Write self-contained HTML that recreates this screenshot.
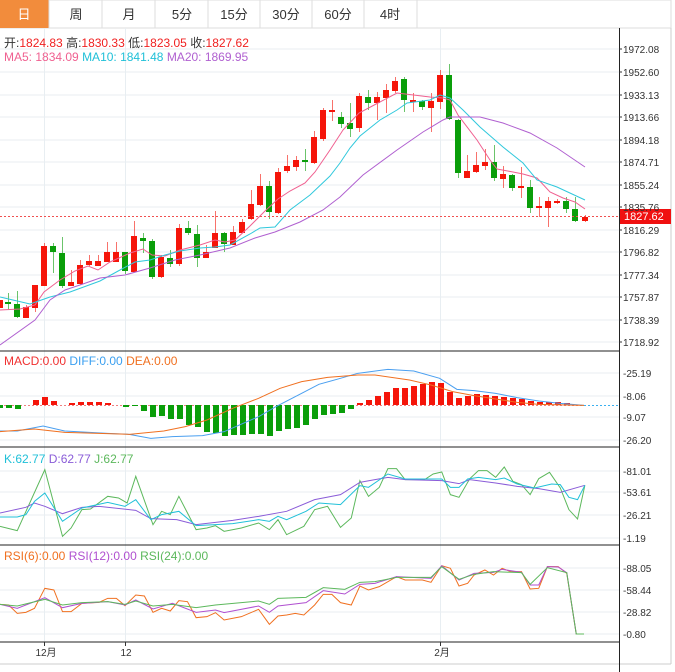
<!DOCTYPE html>
<html><head><meta charset="utf-8"><style>
body{margin:0;background:#fff;width:675px;height:672px;overflow:hidden;font-family:"Liberation Sans","Noto Sans CJK SC",sans-serif;}
svg{display:block}
</style></head><body>
<svg width="675" height="672" viewBox="0 0 675 672" xmlns="http://www.w3.org/2000/svg" font-family="Liberation Sans, Noto Sans CJK SC, sans-serif">
<!-- tabs -->
<rect x="0" y="0" width="671" height="28" fill="#fff" stroke="#ddd"/>
<rect x="0" y="0" width="49" height="28" fill="#f28c3c"/>
<g stroke="#ddd"><line x1="49" y1="0" x2="49" y2="28"/><line x1="102" y1="0" x2="102" y2="28"/><line x1="155" y1="0" x2="155" y2="28"/><line x1="208" y1="0" x2="208" y2="28"/><line x1="260" y1="0" x2="260" y2="28"/><line x1="312" y1="0" x2="312" y2="28"/><line x1="364" y1="0" x2="364" y2="28"/><line x1="417" y1="0" x2="417" y2="28"/></g>
<g font-size="13" text-anchor="middle" fill="#333"><text x="24" y="19" fill="#fff">日</text><text x="76" y="19">周</text><text x="129" y="19">月</text><text x="182" y="19">5分</text><text x="234" y="19">15分</text><text x="286" y="19">30分</text><text x="338" y="19">60分</text><text x="390" y="19">4时</text></g>
<!-- frame -->
<line x1="671" y1="28" x2="671" y2="664" stroke="#ccc"/>
<line x1="0" y1="664" x2="671" y2="664" stroke="#ccc"/>
<!-- grid -->
<g stroke="#e8eef2">
<line x1="0" y1="49" x2="619" y2="49"/><line x1="0" y1="72" x2="619" y2="72"/><line x1="0" y1="95" x2="619" y2="95"/><line x1="0" y1="117" x2="619" y2="117"/><line x1="0" y1="140" x2="619" y2="140"/><line x1="0" y1="162" x2="619" y2="162"/><line x1="0" y1="185" x2="619" y2="185"/><line x1="0" y1="207" x2="619" y2="207"/><line x1="0" y1="230" x2="619" y2="230"/><line x1="0" y1="252" x2="619" y2="252"/><line x1="0" y1="275" x2="619" y2="275"/><line x1="0" y1="297" x2="619" y2="297"/><line x1="0" y1="320" x2="619" y2="320"/><line x1="0" y1="342" x2="619" y2="342"/>
<line x1="0" y1="373" x2="619" y2="373"/><line x1="0" y1="396" x2="619" y2="396"/><line x1="0" y1="417" x2="619" y2="417"/><line x1="0" y1="440" x2="619" y2="440"/>
<line x1="0" y1="471" x2="619" y2="471"/><line x1="0" y1="492" x2="619" y2="492"/><line x1="0" y1="515" x2="619" y2="515"/><line x1="0" y1="538" x2="619" y2="538"/>
<line x1="0" y1="568" x2="619" y2="568"/><line x1="0" y1="590" x2="619" y2="590"/><line x1="0" y1="612" x2="619" y2="612"/><line x1="0" y1="634" x2="619" y2="634"/>
<line x1="44.5" y1="28" x2="44.5" y2="642"/><line x1="125.5" y1="28" x2="125.5" y2="642"/><line x1="440.5" y1="28" x2="440.5" y2="642"/>
</g>
<!-- panel separators -->
<g stroke="#222"><line x1="0" y1="351" x2="619" y2="351"/><line x1="0" y1="447" x2="619" y2="447"/><line x1="0" y1="545" x2="619" y2="545"/><line x1="0" y1="642" x2="619" y2="642"/><line x1="619.5" y1="28" x2="619.5" y2="672"/></g>
<!-- header texts -->
<text x="4" y="47" font-size="12" fill="#333">开:<tspan fill="#f02020">1824.83</tspan>  高:<tspan fill="#f02020">1830.33</tspan>  低:<tspan fill="#f02020">1823.05</tspan>  收:<tspan fill="#f02020">1827.62</tspan></text>
<text x="4" y="61" font-size="12"><tspan fill="#f06090">MA5: 1834.09</tspan>  <tspan fill="#20c0d8">MA10: 1841.48</tspan>  <tspan fill="#b060d0">MA20: 1869.95</tspan></text>
<!-- candles -->
<g id="c">
<g fill="#f5150a" stroke="#f5150a">
<line x1="0.5" y1="300" x2="0.5" y2="308" opacity=".6"/><rect x="-3" y="300" width="6" height="8" stroke="none"/>
<line x1="26.5" y1="305" x2="26.5" y2="318" opacity=".6"/><rect x="23" y="307" width="6" height="11" stroke="none"/>
<line x1="35.5" y1="285" x2="35.5" y2="312" opacity=".6"/><rect x="32" y="285" width="6" height="23" stroke="none"/>
<line x1="44.5" y1="243" x2="44.5" y2="286" opacity=".6"/><rect x="41" y="246" width="6" height="40" stroke="none"/>
<line x1="71.5" y1="270" x2="71.5" y2="286" opacity=".6"/><rect x="68" y="282" width="6" height="4" stroke="none"/>
<line x1="80.5" y1="260" x2="80.5" y2="285" opacity=".6"/><rect x="77" y="265" width="6" height="19" stroke="none"/>
<line x1="89.5" y1="255" x2="89.5" y2="266" opacity=".6"/><rect x="86" y="261" width="6" height="4" stroke="none"/>
<line x1="98.5" y1="255" x2="98.5" y2="266" opacity=".6"/><rect x="95" y="261" width="6" height="5" stroke="none"/>
<line x1="107.5" y1="242" x2="107.5" y2="262" opacity=".6"/><rect x="104" y="252" width="6" height="10" stroke="none"/>
<line x1="116.5" y1="242" x2="116.5" y2="262" opacity=".6"/><rect x="113" y="252" width="6" height="10" stroke="none"/>
<line x1="134.5" y1="221" x2="134.5" y2="272" opacity=".6"/><rect x="131" y="236" width="6" height="36" stroke="none"/>
<line x1="161.5" y1="255" x2="161.5" y2="278" opacity=".6"/><rect x="158" y="257" width="6" height="20" stroke="none"/>
<line x1="179.5" y1="224" x2="179.5" y2="266" opacity=".6"/><rect x="176" y="228" width="6" height="36" stroke="none"/>
<line x1="206.5" y1="245" x2="206.5" y2="258" opacity=".6"/><rect x="203" y="252" width="6" height="6" stroke="none"/>
<line x1="215.5" y1="211" x2="215.5" y2="248" opacity=".6"/><rect x="212" y="233" width="6" height="15" stroke="none"/>
<line x1="233.5" y1="226" x2="233.5" y2="245" opacity=".6"/><rect x="230" y="232" width="6" height="13" stroke="none"/>
<line x1="242.5" y1="219" x2="242.5" y2="233" opacity=".6"/><rect x="239" y="222" width="6" height="11" stroke="none"/>
<line x1="251.5" y1="190" x2="251.5" y2="220" opacity=".6"/><rect x="248" y="204" width="6" height="15" stroke="none"/>
<line x1="260.5" y1="174" x2="260.5" y2="206" opacity=".6"/><rect x="257" y="186" width="6" height="19" stroke="none"/>
<line x1="278.5" y1="168" x2="278.5" y2="214" opacity=".6"/><rect x="275" y="172" width="6" height="41" stroke="none"/>
<line x1="287.5" y1="155" x2="287.5" y2="173" opacity=".6"/><rect x="284" y="166" width="6" height="5" stroke="none"/>
<line x1="296.5" y1="156" x2="296.5" y2="171" opacity=".6"/><rect x="293" y="160" width="6" height="7" stroke="none"/>
<line x1="314.5" y1="131" x2="314.5" y2="164" opacity=".6"/><rect x="311" y="137" width="6" height="26" stroke="none"/>
<line x1="323.5" y1="108" x2="323.5" y2="141" opacity=".6"/><rect x="320" y="110" width="6" height="29" stroke="none"/>
<line x1="332.5" y1="100" x2="332.5" y2="121" opacity=".6"/><rect x="329" y="110" width="6" height="2" stroke="none"/>
<line x1="359.5" y1="93" x2="359.5" y2="132" opacity=".6"/><rect x="356" y="96" width="6" height="32" stroke="none"/>
<line x1="377.5" y1="92" x2="377.5" y2="120" opacity=".6"/><rect x="374" y="97" width="6" height="6" stroke="none"/>
<line x1="386.5" y1="84" x2="386.5" y2="113" opacity=".6"/><rect x="383" y="90" width="6" height="8" stroke="none"/>
<line x1="395.5" y1="77" x2="395.5" y2="93" opacity=".6"/><rect x="392" y="81" width="6" height="10" stroke="none"/>
<line x1="413.5" y1="93" x2="413.5" y2="112" opacity=".6"/><rect x="410" y="100" width="6" height="2" stroke="none"/>
<line x1="431.5" y1="93" x2="431.5" y2="132" opacity=".6"/><rect x="428" y="101" width="6" height="7" stroke="none"/>
<line x1="440.5" y1="70" x2="440.5" y2="109" opacity=".6"/><rect x="437" y="75" width="6" height="27" stroke="none"/>
<line x1="467.5" y1="155" x2="467.5" y2="178" opacity=".6"/><rect x="464" y="171" width="6" height="7" stroke="none"/>
<line x1="476.5" y1="152" x2="476.5" y2="173" opacity=".6"/><rect x="473" y="165" width="6" height="7" stroke="none"/>
<line x1="485.5" y1="149" x2="485.5" y2="170" opacity=".6"/><rect x="482" y="162" width="6" height="4" stroke="none"/>
<line x1="503.5" y1="166" x2="503.5" y2="188" opacity=".6"/><rect x="500" y="174" width="6" height="5" stroke="none"/>
<line x1="521.5" y1="167" x2="521.5" y2="198" opacity=".6"/><rect x="518" y="186" width="6" height="2" stroke="none"/>
<line x1="539.5" y1="197" x2="539.5" y2="217" opacity=".6"/><rect x="536" y="206" width="6" height="2" stroke="none"/>
<line x1="548.5" y1="197" x2="548.5" y2="227" opacity=".6"/><rect x="545" y="201" width="6" height="7" stroke="none"/>
<line x1="557.5" y1="199" x2="557.5" y2="204" opacity=".6"/><rect x="554" y="201" width="6" height="2" stroke="none"/>
<line x1="585.5" y1="215" x2="585.5" y2="222" opacity=".6"/><rect x="582" y="217" width="6" height="4" stroke="none"/>
</g>
<g fill="#0a9e0a" stroke="#0a9e0a">
<line x1="8.5" y1="293" x2="8.5" y2="310" opacity=".6"/><rect x="5" y="302" width="6" height="2" stroke="none"/>
<line x1="17.5" y1="291" x2="17.5" y2="318" opacity=".6"/><rect x="14" y="304" width="6" height="13" stroke="none"/>
<line x1="53.5" y1="243" x2="53.5" y2="273" opacity=".6"/><rect x="50" y="246" width="6" height="6" stroke="none"/>
<line x1="62.5" y1="237" x2="62.5" y2="288" opacity=".6"/><rect x="59" y="253" width="6" height="33" stroke="none"/>
<line x1="125.5" y1="252" x2="125.5" y2="274" opacity=".6"/><rect x="122" y="252" width="6" height="19" stroke="none"/>
<line x1="143.5" y1="233" x2="143.5" y2="253" opacity=".6"/><rect x="140" y="238" width="6" height="3" stroke="none"/>
<line x1="152.5" y1="239" x2="152.5" y2="279" opacity=".6"/><rect x="149" y="241" width="6" height="36" stroke="none"/>
<line x1="170.5" y1="250" x2="170.5" y2="267" opacity=".6"/><rect x="167" y="258" width="6" height="6" stroke="none"/>
<line x1="188.5" y1="221" x2="188.5" y2="235" opacity=".6"/><rect x="185" y="228" width="6" height="5" stroke="none"/>
<line x1="197.5" y1="225" x2="197.5" y2="267" opacity=".6"/><rect x="194" y="234" width="6" height="24" stroke="none"/>
<line x1="224.5" y1="232" x2="224.5" y2="252" opacity=".6"/><rect x="221" y="233" width="6" height="11" stroke="none"/>
<line x1="269.5" y1="181" x2="269.5" y2="219" opacity=".6"/><rect x="266" y="186" width="6" height="26" stroke="none"/>
<line x1="305.5" y1="149" x2="305.5" y2="171" opacity=".6"/><rect x="302" y="160" width="6" height="2" stroke="none"/>
<line x1="341.5" y1="112" x2="341.5" y2="128" opacity=".6"/><rect x="338" y="117" width="6" height="7" stroke="none"/>
<line x1="350.5" y1="103" x2="350.5" y2="137" opacity=".6"/><rect x="347" y="123" width="6" height="6" stroke="none"/>
<line x1="368.5" y1="90" x2="368.5" y2="110" opacity=".6"/><rect x="365" y="97" width="6" height="6" stroke="none"/>
<line x1="404.5" y1="77" x2="404.5" y2="112" opacity=".6"/><rect x="401" y="79" width="6" height="21" stroke="none"/>
<line x1="422.5" y1="100" x2="422.5" y2="110" opacity=".6"/><rect x="419" y="101" width="6" height="6" stroke="none"/>
<line x1="449.5" y1="64" x2="449.5" y2="120" opacity=".6"/><rect x="446" y="75" width="6" height="44" stroke="none"/>
<line x1="458.5" y1="119" x2="458.5" y2="178" opacity=".6"/><rect x="455" y="120" width="6" height="53" stroke="none"/>
<line x1="494.5" y1="145" x2="494.5" y2="181" opacity=".6"/><rect x="491" y="162" width="6" height="16" stroke="none"/>
<line x1="512.5" y1="174" x2="512.5" y2="191" opacity=".6"/><rect x="509" y="175" width="6" height="13" stroke="none"/>
<line x1="530.5" y1="180" x2="530.5" y2="213" opacity=".6"/><rect x="527" y="187" width="6" height="21" stroke="none"/>
<line x1="566.5" y1="197" x2="566.5" y2="213" opacity=".6"/><rect x="563" y="201" width="6" height="8" stroke="none"/>
<line x1="575.5" y1="197" x2="575.5" y2="222" opacity=".6"/><rect x="572" y="209" width="6" height="12" stroke="none"/>
</g>
</g>
<!-- MA lines -->
<g fill="none" stroke-width="1">
<polyline stroke="#f06090" points="0,310 20,309 35,305 44,292 60,280 75,271 88,266 98,270 110,262 130,253 143,249 152,255 165,256 180,250 200,245 215,240 225,242 235,240 250,226 265,211 278,199 290,191 305,183 315,172 330,150 343,130 359,113 378,103 397,93 430,97 443,98 450,100 458,115 477,140 490,160 497,169 513,172 523,174 537,178 550,192 563,198 575,202 585,209"/>
<polyline stroke="#30c8dc" points="0,297 30,304 50,297 70,292 100,281 120,270 135,262 150,260 165,255 180,251 200,248 215,247 230,245 250,234 260,228 275,227 290,210 310,195 330,176 340,163 350,148 360,136 380,120 397,110 407,103 430,100 440,95 450,98 463,110 480,127 503,147 523,163 537,180 557,187 585,200"/>
<polyline stroke="#b060d0" points="0,345 35,320 50,300 65,290 80,285 100,278 125,275 150,268 175,260 200,255 230,248 255,238 275,232 300,222 323,210 340,197 363,175 397,150 423,132 443,120 450,117 480,117 503,123 530,133 557,148 585,167"/>
</g>
<!-- current price -->
<line x1="0" y1="216.5" x2="619" y2="216.5" stroke="#f05050" stroke-dasharray="2,2"/>
<rect x="620" y="209" width="51" height="15" fill="#f01010"/>
<text x="624" y="220" font-size="11" fill="#fff">1827.62</text>
<!-- right axis labels -->
<g font-size="10" fill="#333">
<g stroke="#333"><line x1="619" y1="49" x2="622" y2="49"/><line x1="619" y1="72" x2="622" y2="72"/><line x1="619" y1="95" x2="622" y2="95"/><line x1="619" y1="117" x2="622" y2="117"/><line x1="619" y1="140" x2="622" y2="140"/><line x1="619" y1="162" x2="622" y2="162"/><line x1="619" y1="185" x2="622" y2="185"/><line x1="619" y1="207" x2="622" y2="207"/><line x1="619" y1="230" x2="622" y2="230"/><line x1="619" y1="252" x2="622" y2="252"/><line x1="619" y1="275" x2="622" y2="275"/><line x1="619" y1="297" x2="622" y2="297"/><line x1="619" y1="320" x2="622" y2="320"/><line x1="619" y1="342" x2="622" y2="342"/></g>
<text x="623" y="53">1972.08</text><text x="623" y="76">1952.60</text><text x="623" y="99">1933.13</text><text x="623" y="121">1913.66</text><text x="623" y="144">1894.18</text><text x="623" y="166">1874.71</text><text x="623" y="189">1855.24</text><text x="623" y="211">1835.76</text><text x="623" y="234">1816.29</text><text x="623" y="256">1796.82</text><text x="623" y="279">1777.34</text><text x="623" y="301">1757.87</text><text x="623" y="324">1738.39</text><text x="623" y="346">1718.92</text>
<text x="623" y="377">-25.19</text><text x="623" y="400">-8.06</text><text x="623" y="421">-9.07</text><text x="623" y="444">-26.20</text>
<text x="623" y="475">-81.01</text><text x="623" y="496">-53.61</text><text x="623" y="519">-26.21</text><text x="623" y="542">-1.19</text>
<text x="623" y="572">-88.05</text><text x="623" y="594">-58.44</text><text x="623" y="616">-28.82</text><text x="623" y="638">-0.80</text>
</g>
<!-- MACD -->
<text x="4" y="365" font-size="12"><tspan fill="#f03030">MACD:0.00</tspan>  <tspan fill="#3a9ff0">DIFF:0.00</tspan>  <tspan fill="#f07020">DEA:0.00</tspan></text>
<line x1="0" y1="405.5" x2="619" y2="405.5" stroke="#f08080" stroke-dasharray="2,2"/>
<line x1="580" y1="405.5" x2="619" y2="405.5" stroke="#3ab0f0" stroke-dasharray="2,2"/>
<g fill="#0a9e0a">
<rect x="-3" y="405" width="6" height="3"/><rect x="6" y="405" width="6" height="3"/><rect x="15" y="405" width="6" height="4"/>
<rect x="123" y="405" width="6" height="2"/><rect x="132" y="405" width="6" height="1"/><rect x="141" y="405" width="6" height="6"/><rect x="150" y="405" width="6" height="12"/><rect x="159" y="405" width="6" height="11"/><rect x="168" y="405" width="6" height="14"/><rect x="177" y="405" width="6" height="14"/><rect x="186" y="405" width="6" height="20"/><rect x="195" y="405" width="6" height="22"/><rect x="204" y="405" width="6" height="27"/><rect x="213" y="405" width="6" height="28"/><rect x="222" y="405" width="6" height="31"/><rect x="231" y="405" width="6" height="30"/><rect x="240" y="405" width="6" height="30"/><rect x="249" y="405" width="6" height="29"/><rect x="258" y="405" width="6" height="29"/><rect x="267" y="405" width="6" height="31"/><rect x="276" y="405" width="6" height="26"/><rect x="285" y="405" width="6" height="24"/><rect x="294" y="405" width="6" height="23"/><rect x="303" y="405" width="6" height="20"/><rect x="312" y="405" width="6" height="14"/><rect x="321" y="405" width="6" height="10"/><rect x="330" y="405" width="6" height="9"/><rect x="339" y="405" width="6" height="8"/><rect x="348" y="405" width="6" height="4"/>
</g>
<g fill="#f5150a">
<rect x="33" y="400" width="6" height="5"/><rect x="42" y="397" width="6" height="8"/><rect x="51" y="401" width="6" height="4"/><rect x="69" y="403" width="6" height="2"/><rect x="78" y="402" width="6" height="3"/><rect x="87" y="402" width="6" height="3"/><rect x="96" y="402" width="6" height="3"/><rect x="105" y="403" width="6" height="2"/>
<rect x="357" y="403" width="6" height="2"/><rect x="366" y="400" width="6" height="5"/><rect x="375" y="396" width="6" height="9"/><rect x="384" y="392" width="6" height="13"/><rect x="393" y="388" width="6" height="17"/><rect x="402" y="388" width="6" height="17"/><rect x="411" y="386" width="6" height="19"/><rect x="420" y="384" width="6" height="21"/><rect x="429" y="382" width="6" height="23"/><rect x="438" y="383" width="6" height="22"/><rect x="447" y="392" width="6" height="13"/><rect x="456" y="398" width="6" height="7"/><rect x="465" y="396" width="6" height="9"/><rect x="474" y="394" width="6" height="11"/><rect x="483" y="395" width="6" height="10"/><rect x="492" y="396" width="6" height="9"/><rect x="501" y="397" width="6" height="8"/><rect x="510" y="398" width="6" height="7"/><rect x="519" y="399" width="6" height="6"/><rect x="528" y="401" width="6" height="4"/><rect x="537" y="402" width="6" height="3"/><rect x="546" y="402" width="6" height="3"/><rect x="555" y="402" width="6" height="3"/><rect x="564" y="403" width="6" height="2"/>
</g>
<g transform="translate(0,345) scale(0.431,0.3333)" fill="none" stroke-width="1">
<polyline vector-effect="non-scaling-stroke" stroke="#4a9ff0" points="0,258 40,258 100,243 150,258 250,265 300,268 350,280 400,275 470,272 520,260 600,215 640,185 700,145 740,118 790,100 830,85 900,73 960,78 1020,100 1060,133 1100,137 1150,145 1200,158 1250,168 1300,175 1355,181"/>
<polyline vector-effect="non-scaling-stroke" stroke="#f07020" points="0,260 80,252 150,262 300,268 380,258 430,245 480,225 540,190 600,160 650,130 700,110 760,97 830,90 870,90 950,105 1000,120 1050,140 1100,152 1150,162 1200,172 1250,178 1355,181"/>
</g>
<!-- KDJ -->
<text x="4" y="463" font-size="12"><tspan fill="#20c0d8">K:62.77</tspan>  <tspan fill="#8a5cd8">D:62.77</tspan>  <tspan fill="#5cb85c">J:62.77</tspan></text>
<g transform="translate(0,448) scale(0.431,0.3333)" fill="none" stroke-width="1">
<polyline vector-effect="non-scaling-stroke" stroke="#5cb85c" points="0,235 40,248 104,65 145,265 165,240 190,185 210,183 250,145 275,150 295,165 315,85 355,230 375,190 395,200 415,145 455,245 480,240 500,233 520,250 560,240 600,225 625,245 645,215 665,260 705,235 730,185 760,175 790,238 815,210 835,98 855,145 880,118 900,62 920,62 940,95 985,95 1005,78 1025,72 1045,140 1065,148 1090,92 1110,68 1130,68 1150,88 1170,57 1190,100 1210,110 1230,140 1250,92 1275,73 1300,120 1320,185 1340,213 1357,112"/>
<polyline vector-effect="non-scaling-stroke" stroke="#8a5cd8" points="0,195 60,178 80,165 104,175 145,197 190,178 230,175 315,187 350,212 410,215 455,230 540,217 600,205 665,190 730,155 790,140 835,103 870,95 900,88 940,95 1025,98 1065,107 1090,95 1150,105 1200,115 1250,122 1300,133 1357,112"/>
<polyline vector-effect="non-scaling-stroke" stroke="#20c0d8" points="0,207 40,207 60,200 80,160 104,135 145,220 190,180 250,163 290,175 315,155 350,215 375,200 415,190 455,233 500,230 540,227 600,215 625,220 645,205 665,215 710,190 740,165 790,170 835,113 855,118 900,78 940,93 985,93 1025,93 1045,118 1065,118 1085,93 1110,88 1150,95 1170,90 1200,108 1240,120 1280,108 1300,110 1320,148 1340,155 1357,112"/>
</g>
<!-- RSI -->
<text x="4" y="560" font-size="12"><tspan fill="#f07020">RSI(6):0.00</tspan>  <tspan fill="#b050d0">RSI(12):0.00</tspan>  <tspan fill="#5cb85c">RSI(24):0.00</tspan></text>
<g transform="translate(0,545) scale(0.431,0.3333)" fill="none" stroke-width="1">
<polyline vector-effect="non-scaling-stroke" stroke="#f07020" points="0,178 20,180 40,205 60,202 80,190 104,130 125,135 145,200 165,200 190,175 230,172 250,160 270,160 290,182 315,150 335,153 355,202 375,190 395,198 415,167 435,170 455,218 480,215 500,203 520,225 560,215 600,193 625,238 645,213 665,210 685,205 705,210 730,180 750,148 770,148 790,173 815,180 835,123 855,135 880,125 920,95 940,105 980,105 1000,112 1025,62 1045,70 1065,123 1085,115 1100,90 1125,75 1145,90 1165,70 1185,80 1210,80 1230,132 1250,130 1270,65 1295,65 1315,85 1337,267 1355,267"/>
<polyline vector-effect="non-scaling-stroke" stroke="#b050d0" points="0,178 40,190 104,158 145,188 190,175 250,170 290,180 315,165 355,192 400,175 455,202 500,195 520,203 600,183 625,202 645,183 710,173 750,137 800,147 835,118 870,115 920,95 1000,100 1025,62 1065,105 1100,85 1145,82 1165,73 1210,82 1230,120 1250,120 1270,65 1295,66 1315,83 1337,267 1355,267"/>
<polyline vector-effect="non-scaling-stroke" stroke="#5cb85c" points="0,178 40,183 104,163 145,180 190,173 250,170 290,178 315,168 355,183 400,178 455,188 500,180 600,168 625,178 645,160 710,157 750,128 800,133 835,112 870,110 920,97 1000,97 1025,65 1065,103 1100,88 1145,80 1210,83 1230,118 1270,68 1315,83 1337,267 1355,267"/>
</g>
<!-- date axis -->
<g stroke="#333"><line x1="44.5" y1="642" x2="44.5" y2="646"/><line x1="125.5" y1="642" x2="125.5" y2="646"/><line x1="440.5" y1="642" x2="440.5" y2="646"/></g>
<g font-size="10" fill="#333" text-anchor="middle"><text x="46" y="656">12月</text><text x="126" y="656">12</text><text x="442" y="656">2月</text></g>
</svg>
</body></html>
